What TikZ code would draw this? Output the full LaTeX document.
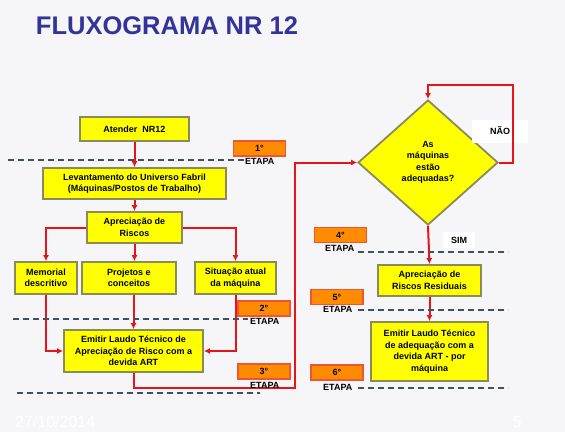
\documentclass[tikz,border=0pt]{standalone}
\usepackage{fontspec}
\setmainfont{Liberation Sans}
\usetikzlibrary{shapes.geometric,arrows.meta}
\definecolor{titleblue}{HTML}{333399}
\definecolor{boxyellow}{HTML}{FFFF00}
\definecolor{boxedge}{HTML}{8A8A5C}
\definecolor{stepfill}{HTML}{FF8C00}
\definecolor{stepedge}{HTML}{EE5533}
\definecolor{flowred}{HTML}{E8141B}
\definecolor{stageline}{HTML}{405060}
\definecolor{bggray}{HTML}{F6F6F9}
\tikzset{
  txt/.style={font=\bfseries\fontsize{9}{11.5}\selectfont},
  box/.style={txt,draw=boxedge,line width=1.8pt,fill=boxyellow,align=center,inner sep=1pt},
  stepbox/.style={txt,draw=stepedge,line width=1.3pt,fill=stepfill,minimum width=52pt,minimum height=15pt,inner sep=0pt},
  etapa/.style={txt,anchor=west,inner sep=0pt},
  flow/.style={flowred,line width=2pt,-{Latex[length=6pt,width=6pt]}},
  stage/.style={stageline,line width=1.8pt,dash pattern=on 6pt off 4pt},
}
\begin{document}
\begin{tikzpicture}[x=1pt,y=-1pt]
\fill[bggray](0,0)rectangle(565,432);
\useasboundingbox(0,0)rectangle(565,432);
\node[font=\bfseries\fontsize{25.5}{28}\selectfont,text=titleblue](title)at(167,26){FLUXOGRAMA NR 12};
% left column
\node[box,minimum width=109pt,minimum height=24pt](atender)at(134.5,129){Atender\ \ NR12};
\node[box,minimum width=183pt,minimum height=31pt](levant)at(134.5,183.5){Levantamento do Universo Fabril\\(Máquinas/Postos de Trabalho)};
\node[box,minimum width=95pt,minimum height=31pt](apreci)at(134.5,227.5){Apreciação de\\Riscos};
\node[box,minimum width=62pt,minimum height=32pt](memorial)at(46,278){Memorial\\descritivo};
\node[box,minimum width=94pt,minimum height=32pt](projetos)at(129,278){Projetos e\\conceitos};
\node[box,minimum width=81pt,minimum height=32pt](situacao)at(235.5,278){Situação atual\\da máquina};
\node[box,minimum width=139pt,minimum height=42pt](laudo)at(133.5,351){Emitir Laudo Técnico de\\Apreciação de Risco com a\\devida ART};
% right column
\node[box,shape=diamond,inner sep=0pt,minimum width=140pt,minimum height=125pt](adequadas)at(428,162.5){As\\máquinas\\estão\\adequadas?};
\node[box,minimum width=103pt,minimum height=31pt](residuais)at(429.5,280.5){Apreciação de\\Riscos Residuais};
\node[box,minimum width=117pt,minimum height=59pt](laudoart)at(429.5,351.5){Emitir Laudo Técnico\\de adequação com a\\devida ART - por\\máquina};
\node[txt,fill=white,minimum width=56pt,minimum height=23pt](nao)at(500,131){NÃO};
\node[txt,fill=white,minimum width=32pt,minimum height=16pt](sim)at(459,240){SIM};
\coordinate(turn)at(295,388);
\coordinate(loop)at(513,85);
% connectors
\draw[flow](atender)--(levant);
\draw[flow](levant)--(apreci);
\draw[flow](apreci.south)--(apreci.south|-projetos.north);
\draw[flow](apreci.west)-|(memorial.north);
\draw[flow](apreci.east)-|(situacao.north);
\draw[flow](laudo.north|-projetos.south)--(laudo.north);
\draw[flow](memorial.south)|-(laudo.west);
\draw[flow](situacao.south)|-(laudo.east);
\draw[flow](laudo.south)|-(turn)|-(adequadas.west);
\draw[flow](adequadas.east)-|(loop)-|(adequadas.north);
\draw[flow](adequadas.south)--(residuais.north);
\draw[flow](residuais.south)--(laudoart.north);
% etapas
\draw[stage](8,160)--(245,160);
\draw[stage](13,319)--(248,319);
\draw[stage](17,393)--(260,393);
\draw[stage](358,252)--(508,252);
\draw[stage](358,310)--(508,310);
\draw[stage](358,388)--(508,388);
\node[stepbox](s1)at(259.5,148.5){1°};
\node[stepbox](s2)at(264,308.5){2°};
\node[stepbox](s3)at(264,371.5){3°};
\node[stepbox](s4)at(340.5,235){4°};
\node[stepbox](s5)at(337,297){5°};
\node[stepbox](s6)at(337,372.5){6°};
\node[etapa](e1)at(245,161){ETAPA};
\node[etapa](e2)at(250,321){ETAPA};
\node[etapa](e3)at(250,385){ETAPA};
\node[etapa](e4)at(325,248){ETAPA};
\node[etapa](e5)at(323,309){ETAPA};
\node[etapa](e6)at(323,387){ETAPA};
% rodape
\node[font=\fontsize{16}{18}\selectfont,text=white,anchor=west,inner sep=0pt](data)at(15,422){27/10/2014};
\node[font=\fontsize{16}{18}\selectfont,text=white,inner sep=0pt](pagina)at(517,422){5};
\end{tikzpicture}
\end{document}
